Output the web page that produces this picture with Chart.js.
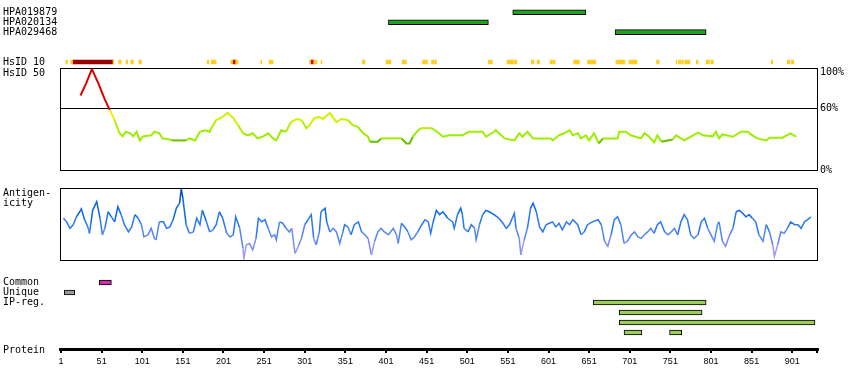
<!DOCTYPE html>
<html><head><meta charset="utf-8">
<script src="https://cdn.jsdelivr.net/npm/chart.js@4.4.1/dist/chart.umd.min.js"></script>
<style>
body{margin:0;background:#fff;}
#wrap{position:relative;width:850px;height:390px;overflow:hidden;background:#fff}
canvas{position:absolute;left:0}
.lbl{position:absolute;left:3px;font-family:"DejaVu Sans Mono",monospace;font-size:10px;line-height:10px;color:#000;white-space:pre}
</style></head><body>
<div id="wrap">
<canvas id="cTop" width="850" height="73" style="top:0"></canvas>
<canvas id="cHsid" width="850" height="130" style="top:55px"></canvas>
<canvas id="cAnt" width="850" height="90" style="top:180px"></canvas>
<canvas id="cIp" width="850" height="74" style="top:270px"></canvas>
<canvas id="cAxis" width="850" height="60" style="top:330px"></canvas>
<div class="lbl" style="top:68px">HsID 50</div>
<div class="lbl" style="top:188px">Antigen-
icity</div>
<div class="lbl" style="top:345px">Protein</div>
</div>
<script>
// ---------------- data ----------------
const proteinLength = 931;
const proteinTicks = [1,51,101,151,201,251,301,351,401,451,501,551,601,651,701,751,801,851,901,931];

const antibodyNames = ['HPA019879','HPA020134','HPA029468'];
const antibodyRanges = [[557,647],[404,527],[683,795]];

// HsID 10 strip segments: [start, end, level] level 0 = low, 1 = high, 2 = top
const hsid10Segments = [
 [7,9,0],[13,16,0],[16,17,1],[17,65,2],[65,66,0],[72,75,0],[81,83,0],[87,90,0],[97,100,0],
 [181,183,0],[186,192,0],[210,213,0],[213,216,1],[216,219,0],[247,248,0],[257,262,0],
 [307,309,0],[309,312,1],[312,316,0],[321,322,0],[372,375,0],[401,407,0],[421,426,0],
 [446,452,0],[457,460,0],[461,463,0],[527,532,0],[550,559,0],[560,562,0],[580,583,0],
 [587,590,0],[603,605,0],[606,609,0],[632,639,0],[649,654,0],[655,659,0],[684,686,0],
 [687,695,0],[700,710,0],[734,737,0],[758,759,0],[761,764,0],[765,767,0],[769,775,0],
 [783,785,0],[795,799,0],[801,804,0],[875,877,0],[895,898,0],[900,903,0]
];

// HsID 50 profile: [residue, % identity]
const hsid50Profile = [
 [25,73],[32,85],[39,99],[47,85],[55,69],[61,59],[67,49],[73,36],[77,33],[81,37.5],[86,36],[90,33],
 [94,37.5],[98,29],[102,33],[112,34],[116,37.5],[122,36],[126,31],[135,30],[137,29],[155,29],[159,31],
 [166,29],[172,37.5],[178,39],[184,37.5],[186,41],[192,49],[198,51],[206,56],[213,51],[219,44],[225,36],
 [231,34],[237,36],[243,31],[250,33],[256,36],[262,31],[266,29],[272,39],[278,37.5],[284,47],[291,50],
 [297,49],[303,41],[307,44],[313,51],[319,52],[323,50],[332,56],[340,47],[346,50],[354,49],[360,44],
 [366,42.5],[373,36],[379,32.6],[381,27.7],[391,27.7],[395,31],[420,31],[426,26],[430,26],[434,32.6],
 [440,38.5],[444,41],[457,41],[464,37.5],[471,32.6],[479,34],[495,34],[503,37.5],[520,37.5],[524,32.6],
 [534,37.5],[536,39],[540,36],[547,31],[559,29],[565,36],[569,32.6],[575,37.5],[582,31],[604,31],
 [606,29],[614,34],[620,36],[627,39],[631,34],[637,36],[641,31],[647,34],[651,29],[657,36],[663,26],
 [668,31],[686,31],[688,37.5],[696,37.5],[702,34],[715,31],[719,36],[725,32.6],[731,27],[735,34],
 [740,27.7],[754,30],[758,34],[768,29],[774,31.7],[785,36.6],[791,34],[803,33],[807,37.5],[811,31],
 [815,35],[828,32.6],[838,37.5],[846,37.5],[852,34],[858,31],[869,29],[873,31.7],[889,31.7],[899,36],
 [906,32.6]
];
const hsidTicks = [0,60,100];

// Antigenicity profile: [residue, relative score 0-100]
const antigenicity = [
 [4,58],[8,53],[12,44],[16,49],[20,60],[24,67],[26,71],[30,56],[34,46],[36,37],[38,53],[40,69],[45,81],
 [49,58],[52,35],[55,44],[59,67],[63,60],[67,53],[71,74],[75,63],[79,49],[84,39],[88,46],[92,63],[96,58],
 [100,49],[103,32],[108,35],[112,44],[116,30],[118,28],[122,53],[127,53],[131,44],[135,46],[139,56],
 [143,72],[147,79],[149,99],[151,86],[155,49],[159,37],[164,39],[168,58],[172,49],[175,69],[180,53],
 [184,39],[188,42],[192,49],[196,67],[200,58],[205,37],[209,32],[213,35],[216,60],[221,44],[225,16],
 [226,2],[229,21],[233,23],[237,14],[241,30],[244,58],[248,53],[252,56],[256,44],[260,32],[264,35],
 [266,28],[270,53],[274,51],[278,44],[282,39],[285,44],[289,9],[293,19],[297,30],[301,49],[305,56],
 [309,63],[312,30],[315,21],[319,39],[321,67],[326,72],[328,53],[332,39],[336,44],[340,39],[344,23],
 [348,39],[350,49],[354,46],[358,35],[362,49],[367,53],[371,39],[375,35],[379,30],[383,7],[387,26],
 [391,39],[395,44],[399,39],[404,35],[410,44],[414,35],[416,23],[420,51],[424,46],[428,39],[432,28],
 [436,32],[440,39],[445,49],[449,56],[453,53],[456,37],[459,53],[463,69],[467,63],[471,67],[477,58],
 [483,53],[485,44],[489,63],[493,72],[495,63],[497,44],[502,39],[506,49],[510,44],[512,28],[516,49],
 [520,63],[524,69],[528,67],[534,63],[540,58],[545,51],[549,44],[553,49],[559,65],[561,44],[565,30],
 [567,7],[571,28],[575,44],[579,72],[582,79],[586,67],[590,46],[594,39],[598,49],[602,51],[606,53],
 [610,46],[614,51],[618,42],[623,53],[627,49],[631,56],[637,49],[641,35],[645,39],[649,49],[655,53],
 [662,56],[666,49],[670,26],[674,19],[678,35],[682,56],[686,60],[690,49],[694,23],[698,26],[703,35],
 [707,39],[711,32],[715,30],[719,35],[723,39],[727,44],[731,37],[735,49],[739,53],[744,39],[748,35],
 [752,39],[756,44],[760,35],[764,53],[768,63],[772,56],[776,35],[780,30],[785,35],[789,53],[793,58],
 [797,44],[801,35],[805,26],[809,49],[811,53],[815,26],[819,19],[824,35],[828,44],[832,67],[836,69],
 [840,65],[844,60],[848,63],[852,58],[856,53],[860,35],[865,26],[869,49],[873,39],[877,21],[879,5],
 [883,21],[887,39],[891,37],[895,44],[899,53],[904,49],[908,49],[912,44],[916,53],[920,56],[924,60]
];

const ipRows = ['Common','Unique','IP-reg.',' ','  ','   '];
const commonRange = [48,63];
const uniqueRange = [5,18];
const ipRegions = [[656,795],[688,790],[688,929],[694,716],[750,765]];
const ipRegionRows = [2,3,4,5,5];

// ---------------- rendering ----------------
const X_MIN = 1 - 1/0.8125;             // residue at left frame edge
const X_MAX = 1 + 757/0.8125;           // residue at right frame edge
const MONO = {family:'"DejaVu Sans Mono", monospace', size:10};
const stripColors = ['#ffcc22','#dd0000','#990000'];

const framePlugin = {
  id:'frame',
  afterDatasetsDraw(chart){
    const a = chart.chartArea, ctx = chart.ctx;
    ctx.save();
    ctx.strokeStyle = '#000'; ctx.lineWidth = 1;
    ctx.strokeRect(Math.round(a.left)+0.5, Math.round(a.top)+0.5, Math.round(a.right-a.left)-1, Math.round(a.bottom-a.top));
    ctx.restore();
  }
};
const common = {responsive:false, animation:false, events:[],
  plugins:{legend:{display:false}, tooltip:{enabled:false}}};

function hsidColor(v){
  if (v >= 60) return '#dd0000';
  if (v >= 54) return '#f2ee00';
  if (v >= 47) return '#d4f000';
  if (v >= 40) return '#b4f000';
  if (v >= 29.5) return '#9cee00';
  return '#66c000';
}
function antColor(v){
  if (v >= 80) return '#0650c0';
  if (v >= 60) return '#0b68e8';
  if (v >= 42) return '#2a78f2';
  if (v >= 30) return '#5585f0';
  if (v >= 18) return '#7a8cf2';
  return '#a098f5';
}

// Top: antibodies + HsID 10 strip
const topRows = antibodyNames.concat([' ','  ','HsID 10']);
new Chart(document.getElementById('cTop'), {
  type:'bar',
  data:{labels:topRows, datasets:[
    {data: antibodyNames.map((n,i)=>({x:antibodyRanges[i], y:n})),
     backgroundColor:'#22a022', borderColor:'#000', borderWidth:1, borderSkipped:false,
     barThickness:5, grouped:false},
    {data: hsid10Segments.map(s=>({x:[s[0],s[1]], y:'HsID 10'})),
     backgroundColor: hsid10Segments.map(s=>stripColors[s[2]]), borderWidth:0,
     barThickness:4, grouped:false}
  ]},
  options:Object.assign({}, common, {
    indexAxis:'y',
    layout:{padding:{left:3, right:32, top:7.3, bottom:5.7}},
    scales:{
      x:{type:'linear', min:X_MIN, max:X_MAX, display:false},
      y:{type:'category', labels:topRows, position:'left',
         afterFit(s){ s.width = 57; },
         grid:{display:false}, border:{display:false},
         ticks:{crossAlign:'far', padding:0, color:'#000', font:MONO, autoSkip:false}}
    }
  })
});

// HsID 50 profile
new Chart(document.getElementById('cHsid'), {
  type:'line',
  data:{datasets:[{
    data: hsid50Profile.map(p=>({x:p[0], y:p[1]})),
    borderWidth:2, pointRadius:0, tension:0,
    borderColor:'#9cee00',
    segment:{borderColor: c => hsidColor((c.p0.parsed.y + c.p1.parsed.y)/2)}
  }]},
  options:Object.assign({}, common, {
    layout:{padding:{left:60, right:0, top:13, bottom:15}},
    scales:{
      x:{type:'linear', min:X_MIN, max:X_MAX, display:false},
      y:{min:0, max:100, position:'right',
         afterFit(s){ s.width = 32; },
         afterBuildTicks(s){ s.ticks = hsidTicks.map(v=>({value:v})); },
         grid:{drawTicks:false, lineWidth:1, color: c => (c.tick && c.tick.value === 60) ? '#000' : 'rgba(0,0,0,0)'},
         border:{display:false},
         ticks:{padding:2, color:'#000', font:Object.assign({lineHeight:0.9}, MONO),
                callback: v => v === 100 ? ['', '100%'] : v + '%'}}
    }
  }),
  plugins:[framePlugin]
});

// Antigenicity
new Chart(document.getElementById('cAnt'), {
  type:'line',
  data:{datasets:[{
    data: antigenicity.map(p=>({x:p[0], y:p[1]})),
    borderWidth:1.5, pointRadius:0, tension:0,
    borderColor:'#2a78f2',
    segment:{borderColor: c => antColor((c.p0.parsed.y + c.p1.parsed.y)/2)}
  }]},
  options:Object.assign({}, common, {
    layout:{padding:{left:60, right:32, top:8, bottom:10}},
    scales:{
      x:{type:'linear', min:X_MIN, max:X_MAX, display:false},
      y:{min:0, max:100, display:false}
    }
  }),
  plugins:[framePlugin]
});

// Common / Unique / IP-regions
new Chart(document.getElementById('cIp'), {
  type:'bar',
  data:{labels:ipRows, datasets:[
    {data:[{x:commonRange, y:ipRows[0]}], backgroundColor:'#cc33aa', borderColor:'#000',
     borderWidth:1, borderSkipped:false, barThickness:5, grouped:false},
    {data:[{x:uniqueRange, y:ipRows[1]}], backgroundColor:'#999999', borderColor:'#000',
     borderWidth:1, borderSkipped:false, barThickness:5, grouped:false},
    {data: ipRegions.map((r,i)=>({x:r, y:ipRows[ipRegionRows[i]]})), backgroundColor:'#9ccc5c',
     borderColor:'#000', borderWidth:1, borderSkipped:false, barThickness:5, grouped:false}
  ]},
  options:Object.assign({}, common, {
    indexAxis:'y',
    layout:{padding:{left:3, right:32, top:7.5, bottom:6.5}},
    scales:{
      x:{type:'linear', min:X_MIN, max:X_MAX, display:false},
      y:{type:'category', labels:ipRows, position:'left',
         afterFit(s){ s.width = 57; },
         grid:{display:false}, border:{display:false},
         ticks:{crossAlign:'far', padding:0, color:'#000', font:MONO, autoSkip:false}}
    }
  })
});

// Protein axis
new Chart(document.getElementById('cAxis'), {
  type:'scatter',
  data:{datasets:[{data:[]}]},
  options:Object.assign({}, common, {
    layout:{padding:{left:60, right:32, top:0, bottom:0}},
    scales:{
      x:{type:'linear', min:X_MIN, max:X_MAX, position:'bottom',
         afterFit(s){ s.height = 41; },
         afterBuildTicks(s){ s.ticks = proteinTicks.map(v=>({value:v})); },
         border:{display:true, color:'#000', width:3},
         grid:{drawOnChartArea:false, drawTicks:true, tickLength:4, color:'#000', lineWidth:2},
         ticks:{autoSkip:false, maxRotation:0, padding:3, color:'#000',
                font:{family:'"Liberation Sans", Arial, sans-serif', size:9},
                callback: v => v === proteinLength ? '' : String(v)}},
      y:{display:false, min:0, max:1}
    }
  })
});
</script>
</body></html>
